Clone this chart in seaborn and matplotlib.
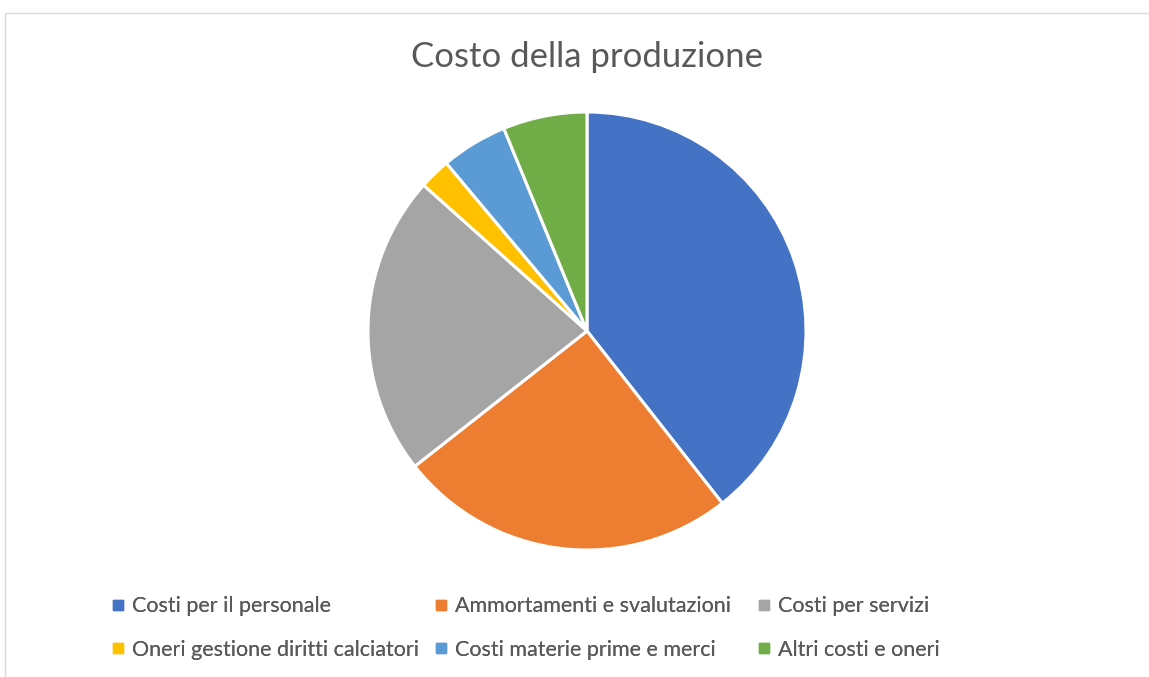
import matplotlib
matplotlib.use("Agg")
import matplotlib.pyplot as plt
from matplotlib.lines import Line2D
from matplotlib.patches import Rectangle
import seaborn as sns

categories = ["Costi per il personale", "Ammortamenti e svalutazioni", "Costi per servizi",
              "Oneri gestione diritti calciatori", "Costi materie prime e merci", "Altri costi e oneri"]
values = [39.4, 25.0, 22.2, 2.3, 4.9, 6.2]
colors = ["#4472C4", "#ED7D31", "#A5A5A5", "#FFC000", "#5B9BD5", "#70AD47"]
title = "Costo della produzione"

sns.set_theme(style="white")
plt.rcParams['font.family'] = ['Lato', 'DejaVu Sans']

W, H = 1149, 677
fig = plt.figure(figsize=(W / 100, H / 100), dpi=100)
fig.patch.set_facecolor("white")

# chart frame
fig.add_artist(Rectangle((4.5 / W, -0.1), 1.2, 1 - 12.5 / H + 0.1, transform=fig.transFigure,
                         fill=False, edgecolor="#D9D9D9", linewidth=1.0))

cx, cy, r = 587, 331, 219
ax = fig.add_axes([(cx - r) / W, (H - cy - r) / H, 2 * r / W, 2 * r / H])
wedges, _ = ax.pie(values, colors=colors, startangle=90, counterclock=False,
                   wedgeprops=dict(edgecolor="white", linewidth=2.2), radius=1)
ax.set_xlim(-1, 1)
ax.set_ylim(-1, 1)
ax.set_aspect("auto")
ax.axis("off")

fig.text(cx / W, 1 - 57 / H, title, ha="center", va="center", fontsize=25,
         color="#595959", fontweight="normal")

# legend: three columns, two rows (row-major order as in the reference)
col_x = [112, 435, 758]
for c in range(3):
    idx = [c, c + 3]
    handles = [Line2D([], [], marker="s", linestyle="none", markersize=6.5,
                      markerfacecolor=colors[i], markeredgecolor=colors[i]) for i in idx]
    labels = [categories[i] for i in idx]
    leg = fig.legend(handles, labels, ncol=1, loc="center left",
                     bbox_to_anchor=(col_x[c] / W, 1 - 628 / H), frameon=False,
                     fontsize=15.5, labelcolor="#595959", handlelength=0.6, handletextpad=0.35,
                     labelspacing=1.1, borderpad=0, borderaxespad=0)
    fig.add_artist(leg)

fig.savefig("out.png", dpi=100, facecolor="white")
